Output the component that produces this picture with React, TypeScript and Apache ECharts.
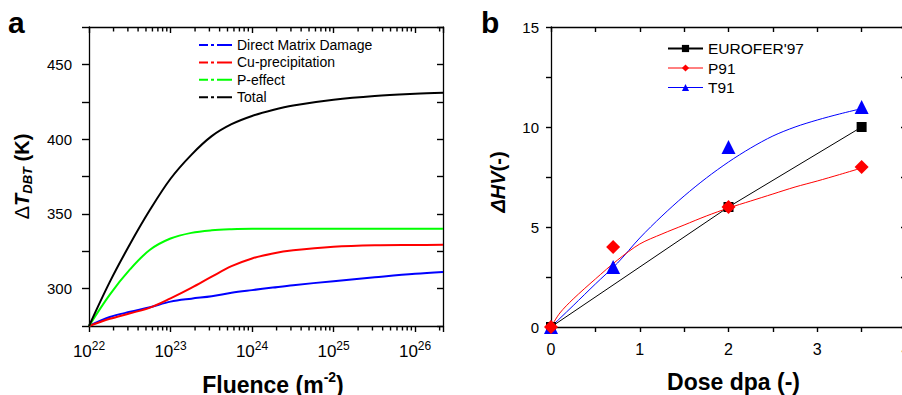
import React, { useEffect, useRef } from 'react';
import * as echarts from 'echarts';

// ---------- Panel a data ----------
const fluence = [1e22, 1.8e22, 3.2e22, 5.6e22, 1e23, 1.8e23, 3.2e23, 5.6e23, 1e24, 1.8e24, 3.2e24, 1e25, 3.2e25, 1e26, 2.2e26];
const directMatrix = [275, 281, 284.5, 287.5, 291.3, 293.3, 294.9, 297.2, 299, 300.7, 302.3, 305, 307.6, 310, 311.2];
const cuPrecip = [275, 279.8, 283.5, 287.3, 293.5, 300.5, 308, 315, 320.2, 323.5, 325.6, 328, 329, 329.2, 329.3];
const pEffect = [275, 296, 313, 326, 333.5, 337.3, 339, 339.7, 340, 340, 340, 340, 340, 340, 340];
const total = [275, 304.5, 330, 352.7, 373.5, 389.5, 402, 410, 415.5, 419.5, 422.5, 426.3, 428.8, 430.3, 431];
const seriesNamesA = ['Direct Matrix Damage', 'Cu-precipitation', 'P-effect', 'Total'];
const decades = [1e22, 1e23, 1e24, 1e25, 1e26];
const minorMultipliers = [2, 3, 4, 5, 6, 7, 8, 9];

// ---------- Panel b data ----------
const euroferDose = [0, 2, 3.5];
const euroferHV = [0, 6, 10];
const p91Dose = [0, 0.7, 2, 3.5];
const p91HV = [0, 4, 6, 8];
const t91Dose = [0, 0.7, 2, 3.5];
const t91HV = [0, 3, 9, 11];
const fitDose = [0, 0.1, 0.25, 0.5, 0.75, 1.0, 1.25, 1.5, 1.75, 2.0, 2.25, 2.5, 2.75, 3.0, 3.25, 3.5];
const p91Fit = [0, 0.7, 1.4, 2.4, 3.35, 4.15, 4.65, 5.1, 5.55, 5.95, 6.3, 6.65, 7.0, 7.3, 7.62, 7.95];
const t91Fit = [0, 0.43, 1.07, 2.15, 3.2, 4.45, 5.55, 6.55, 7.45, 8.25, 8.95, 9.55, 10.0, 10.35, 10.65, 10.92];

const FONT = '"Liberation Sans", Arial, Helvetica, sans-serif';
const BLACK = '#000000';
const BLUE = '#0000ff';
const RED = '#ff0000';
const GREEN = '#00ff00';

const zip = (xs: number[], ys: number[]) => xs.map((x, i) => [x, ys[i]]);

const dashDotIcon = 'path://M0,0H9V2H0Z M12,0H15V2H12Z M18,0H33V2H18Z';

const axisLineStyle = () => ({ show: true, onZero: false, lineStyle: { color: BLACK, width: 1.3 } });
const tickStyle = () => ({ color: BLACK, width: 1.4 });

const logLabel = (v: number) => {
  const e = Math.log10(v);
  const r = Math.round(e);
  if (Math.abs(e - r) > 1e-6) return '';
  return `{b|10}{s|${r}}`;
};

export default function App() {
  const ref = useRef<HTMLDivElement>(null);
  useEffect(() => {
    if (!ref.current) return;
    const chart = echarts.init(ref.current, undefined, { renderer: 'svg' });

    const minorVals: number[] = [];
    decades.forEach((d) => {
      minorMultipliers.forEach((m) => {
        if (m * d <= 2.2e26) minorVals.push(m * d);
      });
    });

    const option: any = {
      animation: false,
      backgroundColor: '#ffffff',
      title: [
        { text: 'a', left: 8, top: 7, padding: 0, textStyle: { fontSize: 30, fontWeight: 'bold', fontFamily: FONT, color: BLACK } },
        { text: 'b', left: 481, top: 7, padding: 0, textStyle: { fontSize: 30, fontWeight: 'bold', fontFamily: FONT, color: BLACK } },
      ],
      grid: [
        { left: 89, top: 27, width: 354, height: 299, containLabel: false, outerBoundsMode: 'none' },
        { left: 551, top: 27, width: 355, height: 300, containLabel: false, outerBoundsMode: 'none' },
      ],
      legend: [
        {
          orient: 'vertical', left: 199, top: 36.5, padding: 0, itemWidth: 33, itemHeight: 2, itemGap: 0.4,
          itemStyle: { borderWidth: 0 },
          textStyle: { fontSize: 14, lineHeight: 17, fontFamily: FONT, color: BLACK },
          data: seriesNamesA.map((n) => ({ name: n, icon: dashDotIcon })),
        },
        {
          orient: 'vertical', left: 667, top: 40, padding: 0, itemWidth: 35, itemHeight: 9, itemGap: 2.5,
          itemStyle: { borderWidth: 0 },
          textStyle: { fontSize: 15.5, lineHeight: 17, fontFamily: FONT, color: BLACK },
          data: [
            { name: "EUROFER'97" },
            { name: 'P91', lineStyle: { opacity: 1, width: 1, color: RED } },
            { name: 'T91', lineStyle: { opacity: 1, width: 1, color: BLUE } },
          ],
        },
      ],
      xAxis: [
        {
          gridIndex: 0, type: 'log', logBase: 10, min: 1e22, max: 2.2e26, position: 'bottom',
          axisLine: axisLineStyle(),
          axisTick: { show: true, length: 6, lineStyle: tickStyle() },
          splitLine: { show: false },
          axisLabel: {
            margin: 14, formatter: logLabel,
            rich: {
              b: { fontSize: 17, fontFamily: FONT, color: BLACK, lineHeight: 20, verticalAlign: 'bottom' },
              s: { fontSize: 12, fontFamily: FONT, color: BLACK, lineHeight: 12, verticalAlign: 'top' },
            },
          },
          name: '{n|Fluence (m}{sup|-2}{n|)}', nameLocation: 'middle', nameGap: 44, nameMoveOverlap: false,
          nameTextStyle: {
            padding: [0, 0, 0, 14],
            rich: {
              n: { fontSize: 23, fontWeight: 'bold', fontFamily: FONT, color: BLACK, lineHeight: 26, verticalAlign: 'bottom' },
              sup: { fontSize: 14, fontWeight: 'bold', fontFamily: FONT, color: BLACK, lineHeight: 15, verticalAlign: 'top' },
            },
          },
        },
        {
          gridIndex: 0, type: 'log', logBase: 10, min: 1e22, max: 2.2e26, position: 'top',
          axisLine: axisLineStyle(),
          axisTick: { show: true, inside: true, length: 6, lineStyle: tickStyle() },
          axisLabel: { show: false }, splitLine: { show: false },
        },
        {
          gridIndex: 1, type: 'value', min: 0, max: 4, interval: 0.5, position: 'bottom',
          axisLine: axisLineStyle(),
          axisTick: { show: true, length: 5, lineStyle: tickStyle() },
          splitLine: { show: false },
          axisLabel: {
            margin: 14, fontSize: 16, fontFamily: FONT, color: BLACK,
            formatter: (v: number) => (Math.abs(v - Math.round(v)) < 1e-9 ? String(Math.round(v)) : ''),
          },
          name: 'Dose dpa (-)', nameLocation: 'middle', nameGap: 42, nameMoveOverlap: false,
          nameTextStyle: { fontSize: 23, fontWeight: 'bold', fontFamily: FONT, color: BLACK, lineHeight: 26, padding: [0, 0, 0, 10] },
        },
        {
          gridIndex: 1, type: 'value', min: 0, max: 4, interval: 0.5, position: 'top',
          axisLine: axisLineStyle(),
          axisTick: { show: true, inside: true, length: 5, lineStyle: tickStyle() },
          axisLabel: { show: false }, splitLine: { show: false },
        },
      ],
      yAxis: [
        {
          gridIndex: 0, type: 'value', min: 275, max: 475, interval: 25, position: 'left',
          axisLine: axisLineStyle(),
          axisTick: { show: true, length: 7, lineStyle: tickStyle() },
          splitLine: { show: false },
          axisLabel: {
            margin: 17, fontSize: 15, fontFamily: FONT, color: BLACK,
            formatter: (v: number) => (v % 50 === 0 ? String(v) : ''),
          },
          name: '{d|Δ}{t|T}{sub|DBT}{k| (K)}', nameLocation: 'middle', nameRotate: 90, nameGap: 55, nameMoveOverlap: false,
          nameTextStyle: {
            rich: {
              d: { fontSize: 20, fontFamily: FONT, color: BLACK, lineHeight: 24 },
              t: { fontSize: 20, fontWeight: 'bold', fontStyle: 'italic', fontFamily: FONT, color: BLACK, lineHeight: 24 },
              sub: { fontSize: 13, fontWeight: 'bold', fontStyle: 'italic', fontFamily: FONT, color: BLACK, lineHeight: 14, verticalAlign: 'bottom' },
              k: { fontSize: 20, fontWeight: 'bold', fontFamily: FONT, color: BLACK, lineHeight: 24 },
            },
          },
        },
        {
          gridIndex: 0, type: 'value', min: 275, max: 475, interval: 25, position: 'right',
          axisLine: axisLineStyle(),
          axisTick: { show: true, inside: true, length: 6, lineStyle: tickStyle() },
          axisLabel: { show: false }, splitLine: { show: false },
        },
        {
          gridIndex: 1, type: 'value', min: 0, max: 15, interval: 2.5, position: 'left',
          axisLine: axisLineStyle(),
          axisTick: { show: true, length: 5, lineStyle: tickStyle() },
          splitLine: { show: false },
          axisLabel: {
            margin: 12, fontSize: 15, fontFamily: FONT, color: BLACK,
            formatter: (v: number) => (v % 5 === 0 ? String(v) : ''),
          },
          name: '{d|ΔHV}{k|(-)}', nameLocation: 'middle', nameRotate: 90, nameGap: 41, nameMoveOverlap: false,
          nameTextStyle: {
            padding: [0, 10, 0, 0],
            rich: {
              d: { fontSize: 20, fontWeight: 'bold', fontStyle: 'italic', fontFamily: FONT, color: BLACK, lineHeight: 24 },
              k: { fontSize: 20, fontWeight: 'bold', fontFamily: FONT, color: BLACK, lineHeight: 24 },
            },
          },
        },
        {
          gridIndex: 1, type: 'value', min: 0, max: 15, interval: 2.5, position: 'right',
          axisLine: axisLineStyle(),
          axisTick: { show: true, inside: true, length: 5, lineStyle: tickStyle() },
          axisLabel: { show: false }, splitLine: { show: false },
        },
      ],
      series: [
        { name: 'Direct Matrix Damage', type: 'line', xAxisIndex: 0, yAxisIndex: 0, data: zip(fluence, directMatrix), showSymbol: false, symbol: 'none', smooth: 0.35, color: BLUE, lineStyle: { color: BLUE, width: 2 } },
        { name: 'Cu-precipitation', type: 'line', xAxisIndex: 0, yAxisIndex: 0, data: zip(fluence, cuPrecip), showSymbol: false, symbol: 'none', smooth: 0.35, color: RED, lineStyle: { color: RED, width: 2 } },
        { name: 'P-effect', type: 'line', xAxisIndex: 0, yAxisIndex: 0, data: zip(fluence, pEffect), showSymbol: false, symbol: 'none', smooth: 0.35, color: GREEN, lineStyle: { color: GREEN, width: 2 } },
        { name: 'Total', type: 'line', xAxisIndex: 0, yAxisIndex: 0, data: zip(fluence, total), showSymbol: false, symbol: 'none', smooth: 0.35, color: BLACK, lineStyle: { color: BLACK, width: 2 } },
        { name: "EUROFER'97", type: 'line', xAxisIndex: 2, yAxisIndex: 2, data: zip(euroferDose, euroferHV), symbol: 'rect', symbolSize: 10, color: BLACK, itemStyle: { color: BLACK }, lineStyle: { color: BLACK, width: 1 } },
        { name: 'T91 fit', type: 'line', xAxisIndex: 2, yAxisIndex: 2, data: zip(fitDose, t91Fit), showSymbol: false, symbol: 'none', smooth: 0.3, color: BLUE, lineStyle: { color: BLUE, width: 1 } },
        { name: 'P91 fit', type: 'line', xAxisIndex: 2, yAxisIndex: 2, data: zip(fitDose, p91Fit), showSymbol: false, symbol: 'none', smooth: 0.3, color: RED, lineStyle: { color: RED, width: 1 } },
        { name: 'T91', type: 'line', xAxisIndex: 2, yAxisIndex: 2, data: zip(t91Dose, t91HV), symbol: 'triangle', symbolSize: 14, color: BLUE, itemStyle: { color: BLUE }, lineStyle: { color: BLUE, width: 1, opacity: 0 } },
        { name: 'P91', type: 'line', xAxisIndex: 2, yAxisIndex: 2, data: zip(p91Dose, p91HV), symbol: 'diamond', symbolSize: 14, color: RED, itemStyle: { color: RED }, lineStyle: { color: RED, width: 1, opacity: 0 } },
      ],
    };

    try {
      chart.setOption(option);
    } catch (e) {
      // keep going so the minor ticks are still attempted
    }

    // Logarithmic minor ticks (bottom: outward, top: inward), placed through the axis scale.
    try {
      const graphics: any[] = [];
      minorVals.forEach((v) => {
        const pb = chart.convertToPixel({ xAxisIndex: 0, yAxisIndex: 0 } as any, [v, 275]) as number[];
        const pt = chart.convertToPixel({ xAxisIndex: 0, yAxisIndex: 0 } as any, [v, 475]) as number[];
        if (pb && pt && isFinite(pb[0])) {
          graphics.push({ type: 'rect', shape: { x: pb[0] - 0.7, y: pb[1], width: 1.4, height: 4.5 }, style: { fill: BLACK } });
          graphics.push({ type: 'rect', shape: { x: pt[0] - 0.7, y: pt[1], width: 1.4, height: 4.5 }, style: { fill: BLACK } });
        }
      });
      chart.setOption({ graphic: graphics });
    } catch (e) {
      // ignore
    }

    return () => {
      chart.dispose();
    };
  }, []);

  return <div ref={ref} style={{ position: 'fixed', left: 0, top: 0, width: 902, height: 395, background: '#fff' }} />;
}
